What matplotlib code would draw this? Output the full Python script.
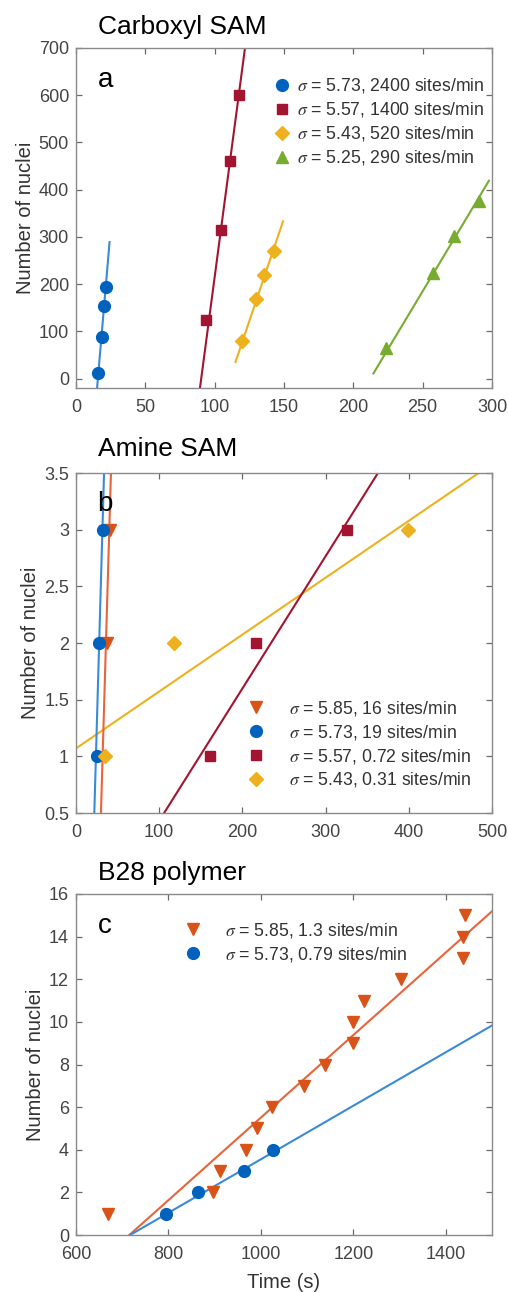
import matplotlib
matplotlib.use("Agg")
import matplotlib.pyplot as plt

plt.rcParams['font.family'] = ['Liberation Sans', 'DejaVu Sans']
plt.rcParams['mathtext.fontset'] = 'stix'

# ---------------- Panel a: Carboxyl SAM ----------------
a_blue_x = [15.7, 18.8, 20.0, 21.7]
a_blue_y = [12, 87, 154, 194]
a_blue_fit_x = [15.2, 24.2]
a_blue_fit_y = [-20, 289]

a_red_x = [93.5, 104.6, 111.1, 117.9]
a_red_y = [123, 314, 460, 601]
a_red_fit_x = [89.4, 122.0]
a_red_fit_y = [-20, 703]

a_orange_x = [119.6, 130.0, 135.3, 142.5]
a_orange_y = [80, 169, 219, 270]
a_orange_fit_x = [115.0, 149.3]
a_orange_fit_y = [35, 333]

a_green_x = [223.4, 257.7, 272.5, 290.3]
a_green_y = [64, 224, 302, 377]
a_green_fit_x = [214.5, 297.8]
a_green_fit_y = [11, 419]

a_labels = [r'$\sigma$ = 5.73, 2400 sites/min',
            r'$\sigma$ = 5.57, 1400 sites/min',
            r'$\sigma$ = 5.43, 520 sites/min',
            r'$\sigma$ = 5.25, 290 sites/min']

# ---------------- Panel b: Amine SAM ----------------
b_or_x = [37.7, 40.9]
b_or_y = [2, 3]
b_or_fit_x = [30.0, 42.0]
b_or_fit_y = [0.5, 3.5]

b_blue_x = [24.9, 27.3, 32.9]
b_blue_y = [1, 2, 3]
b_blue_fit_x = [22.0, 33.7]
b_blue_fit_y = [0.5, 3.5]

b_red_x = [161, 216, 326]
b_red_y = [1, 2, 3]
b_red_fit_x = [105.9, 362.9]
b_red_fit_y = [0.5, 3.5]

b_orange_x = [35, 118, 399]
b_orange_y = [1, 2, 3]
b_orange_fit_x = [0, 484]
b_orange_fit_y = [1.07, 3.5]

b_labels = [r'$\sigma$ = 5.85, 16 sites/min',
            r'$\sigma$ = 5.73, 19 sites/min',
            r'$\sigma$ = 5.57, 0.72 sites/min',
            r'$\sigma$ = 5.43, 0.31 sites/min']

# ---------------- Panel c: B28 polymer ----------------
c_or_x = [669, 896, 912, 968, 991, 1024, 1094, 1138, 1199, 1199, 1222, 1303, 1437, 1437, 1442]
c_or_y = [1, 2, 3, 4, 5, 6, 7, 8, 9, 10, 11, 12, 13, 14, 15]
c_or_fit_x = [715.5, 1500]
c_or_fit_y = [0, 15.19]

c_blue_x = [794, 864, 963, 1026]
c_blue_y = [1, 2, 3, 4]
c_blue_fit_x = [717, 1500]
c_blue_fit_y = [0, 9.83]

c_labels = [r'$\sigma$ = 5.85, 1.3 sites/min',
            r'$\sigma$ = 5.73, 0.79 sites/min']

BLUE = '#0062BD'
BLUE_L = '#3A8AD8'
RED = '#A2142F'
ORANGE = '#EDB120'
GREEN = '#77AC30'
ORED = '#D95319'
ORED_L = '#E8643A'

fig = plt.figure(figsize=(5.08, 12.92), dpi=100)
W, H = 508, 1292
LFS = 12.7


def mkax(left, top, right, bottom):
    return fig.add_axes([left / W, 1 - bottom / H, (right - left) / W, (bottom - top) / H])


def style(ax):
    for s in ax.spines.values():
        s.set_color('#8a8a8a')
        s.set_linewidth(1.0)
    ax.tick_params(direction='in', top=True, right=True, length=4, width=0.9,
                   color='#6a6a6a', labelsize=13, labelcolor='#444444')
    ax.tick_params(axis='x', pad=8)
    ax.tick_params(axis='y', pad=5)
    ax.set_ylabel('Number of nuclei', fontsize=14.5, color='#333333', labelpad=3)


def legend(ax, handles, labels, x, y, hl, htp):
    ax.legend(handles, labels, loc='upper left', bbox_to_anchor=(x, y),
              frameon=False, fontsize=LFS, handlelength=hl, handletextpad=htp,
              labelspacing=0.28, labelcolor='#333333', borderaxespad=0.0)


LW = 1.5

# Panel a
ax = mkax(76, 48, 492, 388)
ax.plot(a_blue_fit_x, a_blue_fit_y, color=BLUE_L, lw=LW)
ax.plot(a_red_fit_x, a_red_fit_y, color=RED, lw=LW)
ax.plot(a_orange_fit_x, a_orange_fit_y, color=ORANGE, lw=LW)
ax.plot(a_green_fit_x, a_green_fit_y, color=GREEN, lw=LW)
h1, = ax.plot(a_blue_x, a_blue_y, 'o', color=BLUE, ms=8.5, ls='none')
h2, = ax.plot(a_red_x, a_red_y, 's', color=RED, ms=6.5, ls='none')
h3, = ax.plot(a_orange_x, a_orange_y, 'D', color=ORANGE, ms=7, ls='none')
h4, = ax.plot(a_green_x, a_green_y, '^', color=GREEN, ms=8.5, ls='none')
ax.set_xlim(0, 300)
ax.set_ylim(-20, 700)
ax.set_xticks([0, 50, 100, 150, 200, 250, 300])
ax.set_yticks([0, 100, 200, 300, 400, 500, 600, 700])
style(ax)
legend(ax, [h1, h2, h3, h4], a_labels, 0.458, 0.937, 1.0, 0.3)
ax.text(0.07, 0.905, 'a', transform=ax.transAxes, fontsize=20, ha='center', va='center')
fig.text(98 / W, 1 - 27 / H, 'Carboxyl SAM', fontsize=19, ha='left', va='center')

# Panel b
ax = mkax(76, 473, 492, 813)
ax.plot(b_orange_fit_x, b_orange_fit_y, color=ORANGE, lw=LW)
ax.plot(b_red_fit_x, b_red_fit_y, color=RED, lw=LW)
ax.plot(b_blue_fit_x, b_blue_fit_y, color=BLUE_L, lw=LW)
ax.plot(b_or_fit_x, b_or_fit_y, color=ORED_L, lw=LW)
g1, = ax.plot(b_or_x, b_or_y, 'v', color=ORED, ms=8.5, ls='none')
g2, = ax.plot(b_blue_x, b_blue_y, 'o', color=BLUE, ms=8.5, ls='none')
g3, = ax.plot(b_red_x, b_red_y, 's', color=RED, ms=6.5, ls='none')
g4, = ax.plot(b_orange_x, b_orange_y, 'D', color=ORANGE, ms=7, ls='none')
ax.set_xlim(0, 500)
ax.set_ylim(0.5, 3.5)
ax.set_xticks([0, 100, 200, 300, 400, 500])
ax.set_yticks([0.5, 1, 1.5, 2, 2.5, 3, 3.5])
ax.set_yticklabels(['0.5', '1', '1.5', '2', '2.5', '3', '3.5'])
style(ax)
legend(ax, [g1, g2, g3, g4], b_labels, 0.374, 0.357, 2.0, 0.84)
ax.text(0.07, 0.91, 'b', transform=ax.transAxes, fontsize=20, ha='center', va='center')
fig.text(98 / W, 1 - 449 / H, 'Amine SAM', fontsize=19, ha='left', va='center')

# Panel c
ax = mkax(76, 894, 492, 1235)
ax.plot(c_or_fit_x, c_or_fit_y, color=ORED_L, lw=LW)
ax.plot(c_blue_fit_x, c_blue_fit_y, color=BLUE_L, lw=LW)
k1, = ax.plot(c_or_x, c_or_y, 'v', color=ORED, ms=8.5, ls='none')
k2, = ax.plot(c_blue_x, c_blue_y, 'o', color=BLUE, ms=8.5, ls='none')
ax.set_xlim(600, 1500)
ax.set_ylim(0, 16)
ax.set_xticks([600, 800, 1000, 1200, 1400])
ax.set_yticks(range(0, 17, 2))
style(ax)
ax.set_xlabel('Time (s)', fontsize=14.5, color='#333333', labelpad=7)
legend(ax, [k1, k2], c_labels, 0.221, 0.942, 2.0, 0.84)
ax.text(0.07, 0.905, 'c', transform=ax.transAxes, fontsize=20, ha='center', va='center')
fig.text(98 / W, 1 - 873 / H, 'B28 polymer', fontsize=19, ha='left', va='center')

fig.savefig('out.png', dpi=100, facecolor='white')
